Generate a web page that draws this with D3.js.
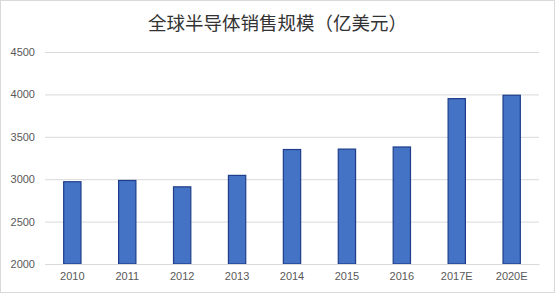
<!DOCTYPE html>
<html>
<head>
<meta charset="utf-8">
<script src="https://d3js.org/d3.v7.min.js"></script>
<style>
  body { margin:0; background:#fff; }
  svg { display:block; }
</style>
</head>
<body>
<script>
var years = ["2010", "2011", "2012", "2013", "2014", "2015", "2016", "2017E", "2020E"];
var sales = [2970, 2985, 2910, 3045, 3350, 3355, 3380, 3950, 3990];
var yTicks = [2000, 2500, 3000, 3500, 4000, 4500];
var title = "全球半导体销售规模（亿美元）";

var width = 555, height = 293;
var margin = {top: 52, right: 16, bottom: 29, left: 45};

var svg = d3.select("body").append("svg")
    .attr("width", width)
    .attr("height", height);

// outer frame
svg.append("rect")
    .attr("x", 0.5).attr("y", 0.5)
    .attr("width", width - 1).attr("height", height - 1)
    .attr("fill", "#fff")
    .attr("stroke", "#d9d9d9");

var x = d3.scaleBand()
    .domain(years)
    .range([margin.left, width - margin.right])
    .paddingInner(0.685)
    .paddingOuter(0.34);

var y = d3.scaleLinear()
    .domain([2000, 4500])
    .range([height - margin.bottom, margin.top]);

// gridlines + y labels
var yAxis = d3.axisLeft(y)
    .tickValues(yTicks)
    .tickFormat(d3.format("d"))
    .tickSize(-(width - margin.left - margin.right))
    .tickPadding(10);

var gy = svg.append("g")
    .attr("transform", "translate(" + margin.left + ",0)")
    .call(yAxis);
gy.select(".domain").remove();
gy.selectAll(".tick line").attr("stroke", "#d9d9d9").attr("stroke-width", 1);
gy.selectAll(".tick text")
    .attr("fill", "#595959")
    .style("font-family", "Liberation Sans, Arial, sans-serif")
    .style("font-size", "11px");

// bars
svg.selectAll("rect.bar")
    .data(years)
    .enter().append("rect")
    .attr("class", "bar")
    .attr("x", function (d) { return x(d); })
    .attr("width", x.bandwidth())
    .attr("y", function (d, i) { return y(sales[i]); })
    .attr("height", function (d, i) { return y(2000) - y(sales[i]); })
    .attr("fill", "#4472c4")
    .attr("stroke", "#1f3d8a")
    .attr("stroke-width", 1.2);

// x labels
var xAxis = d3.axisBottom(x).tickSize(0).tickPadding(8);
var gx = svg.append("g")
    .attr("transform", "translate(0," + (height - margin.bottom) + ")")
    .call(xAxis);
gx.select(".domain").attr("stroke", "#d9d9d9");
gx.selectAll(".tick text")
    .attr("fill", "#595959")
    .style("font-family", "Liberation Sans, Arial, sans-serif")
    .style("font-size", "11px");

// title
svg.append("text")
    .attr("x", width / 2)
    .attr("y", 30)
    .attr("text-anchor", "middle")
    .attr("fill", "#333")
    .style("font-family", "Noto Sans CJK SC, sans-serif")
    .style("font-size", "18.5px")
    .text(title);
</script>
</body>
</html>
